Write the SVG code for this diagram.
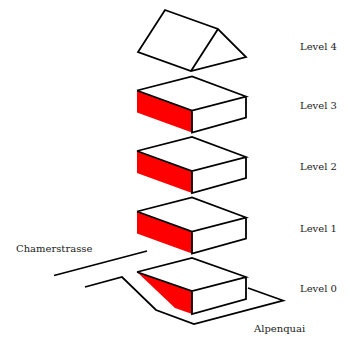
<svg xmlns="http://www.w3.org/2000/svg" width="350" height="338" viewBox="0 0 350 338">
<defs>
<g id="box">
<polygon class="r" points="137,0 192,20 192,42 137,22"/>
<path class="l" d="M137,0 192,-14 246,6 192,20 137,0M192,20V42L246,27V6"/>
</g>
</defs>
<style>
.l{fill:none;stroke:#000;stroke-width:1.8}
.r{fill:#f00}
text{font-family:"DejaVu Serif",serif;font-size:10px;fill:#222}
</style>
<rect width="350" height="338" fill="#fff"/>
<g id="connectors">
<path class="l" d="M54,275.500 147,251"/>
<path class="l" d="M85,287 122,277 156,310 194,324 283,300.500 248,288"/>
</g>
<g id="level4">
<path class="l" d="M165,10 218,29 246,57 191,71 138,52ZM218,29 191,71"/>
<text x="300" y="50">Level 4</text>
</g>
<g id="level3"><use href="#box" y="90.500"/><text x="300" y="109">Level 3</text></g>
<g id="level2"><use href="#box" y="151"/><text x="300" y="169.500">Level 2</text></g>
<g id="level1"><use href="#box" y="211.500"/><text x="300" y="231.500">Level 1</text></g>
<g id="level0">
<polygon class="r" points="137,272 192,291 192,314 175,308"/>
<path class="l" d="M137,272 192,258 246,277 192,291 137,272M192,291V314L246,299V277"/>
<text x="300" y="292">Level 0</text>
</g>
<g id="chamerstrasse"><text x="16" y="252">Chamerstrasse</text></g>
<g id="alpenquai"><text x="254" y="332">Alpenquai</text></g>
</svg>
